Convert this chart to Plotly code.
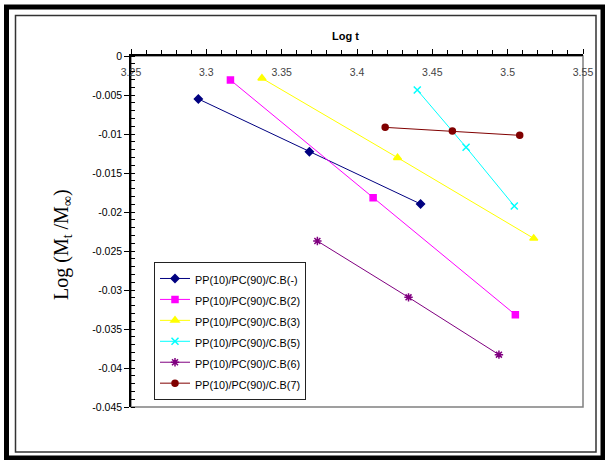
import plotly.graph_objects as go

# ---- data ----
names = ["PP(10)/PC(90)/C.B(-)", "PP(10)/PC(90)/C.B(2)", "PP(10)/PC(90)/C.B(3)",
         "PP(10)/PC(90)/C.B(5)", "PP(10)/PC(90)/C.B(6)", "PP(10)/PC(90)/C.B(7)"]
x_cb0 = [3.2947, 3.3684, 3.4422]
y_cb0 = [-0.00551, -0.01227, -0.01897]
x_cb2 = [3.3160, 3.4107, 3.5051]
y_cb2 = [-0.00308, -0.01816, -0.03317]
x_cb3 = [3.3369, 3.4269, 3.5173]
y_cb3 = [-0.00285, -0.01303, -0.02338]
x_cb5 = [3.4400, 3.4724, 3.5044]
y_cb5 = [-0.00436, -0.01170, -0.01923]
x_cb6 = [3.3737, 3.4342, 3.4942]
y_cb6 = [-0.02372, -0.03094, -0.03829]
x_cb7 = [3.4187, 3.4633, 3.5080]
y_cb7 = [-0.00915, -0.00962, -0.01017]

x_ticks = [3.25, 3.3, 3.35, 3.4, 3.45, 3.5, 3.55]
x_ticklabels = ["3.25", "3.3", "3.35", "3.4", "3.45", "3.5", "3.55"]
y_ticks = [0, -0.005, -0.01, -0.015, -0.02, -0.025, -0.03, -0.035, -0.04, -0.045]
y_ticklabels = ["0", "-0.005", "-0.01", "-0.015", "-0.02", "-0.025", "-0.03", "-0.035", "-0.04", "-0.045"]

xs = [x_cb0, x_cb2, x_cb3, x_cb5, x_cb6, x_cb7]
ys = [y_cb0, y_cb2, y_cb3, y_cb5, y_cb6, y_cb7]
colors = ["#000080", "#FF00FF", "#FFFF00", "#00FFFF", "#800080", "#800000"]
symbols = ["diamond", "square", "triangle-up", "x-thin-open", "asterisk-open", "circle"]
sizes = [6, 6, 7, 7, 7, 6]

fig = go.Figure()
for n, x, y, c, s, sz in zip(names, xs, ys, colors, symbols, sizes):
    fig.add_trace(go.Scatter(
        x=x, y=y, mode="lines+markers",
        name='<span style="font-size:10.8px">' + n + '</span>',
        line=dict(color=c, width=1),
        marker=dict(symbol=s, size=sz, color=c, line=dict(color=c, width=1.5)),
    ))

W, H = 605, 460
L, R, T, B = 131, 583, 56, 407


def px(xp):
    return (xp - L) / (R - L)


def py(yp):
    return (B - yp) / (B - T)


shapes = [
    # plot area frame (right/bottom grey)
    dict(type="rect", xref="paper", yref="paper", x0=0, x1=1, y0=0, y1=1,
         line=dict(color="#808080", width=1.5), layer="below"),
    # outer thick frame
    dict(type="rect", xref="paper", yref="paper", x0=px(6.5), x1=px(603), y0=py(458), y1=py(7),
         line=dict(color="black", width=5)),
    # inner thin frame
    dict(type="rect", xref="paper", yref="paper", x0=px(15.5), x1=px(596), y0=py(452), y1=py(15.5),
         line=dict(color="#333333", width=1.5)),
]

fig.update_layout(
    width=W, height=H,
    margin=dict(l=L, r=W - R, t=T, b=H - B, autoexpand=False),
    paper_bgcolor="white", plot_bgcolor="white",
    font=dict(family="Liberation Sans, Arial", size=10.5, color="black"),
    showlegend=True,
    legend=dict(x=px(154), y=py(262), xanchor="left", yanchor="top",
                bgcolor="white", bordercolor="#222222", borderwidth=1,
                font=dict(size=13.8, color="black"),
                itemwidth=30, tracegroupgap=0),
    shapes=shapes,
    xaxis=dict(
        range=[3.25, 3.55], side="top", tickmode="array",
        tickvals=x_ticks, ticktext=x_ticklabels,
        ticks="outside", ticklen=5, tickwidth=1, tickcolor="black",
        ticklabelposition="inside", ticklabeloverflow="allow", ticklabelstandoff=12,
        showgrid=False, zeroline=False,
        showline=True, linecolor="black", linewidth=1.5,
        minor=dict(dtick=0.01, ticks="outside", ticklen=4, tickcolor="black", showgrid=False),
    ),
    yaxis=dict(
        range=[-0.045, 0], tickmode="array",
        tickvals=y_ticks, ticktext=y_ticklabels,
        ticks="outside", ticklen=5, tickwidth=1, tickcolor="black",
        ticklabeloverflow="allow",
        showgrid=False, zeroline=False,
        showline=True, linecolor="black", linewidth=1.5,
        minor=dict(dtick=0.001, tick0=0, ticks="inside", ticklen=4, tickcolor="black", showgrid=False),
    ),
    annotations=[
        dict(text="<b>Log t</b>", xref="paper", yref="paper", x=px(345), y=py(36),
             showarrow=False, font=dict(size=11, color="black"), xanchor="center", yanchor="middle"),
        dict(text="Log (M<sub>t</sub> /M<sub>∞</sub>)", xref="paper", yref="paper",
             x=px(62), y=py(245), textangle=-90, showarrow=False,
             font=dict(family="Liberation Serif, Times New Roman", size=20, color="black"),
             xanchor="center", yanchor="middle"),
    ],
)

fig.write_html("out.html", config={"displayModeBar": False},
               post_script="document.body.style.margin='0';document.body.style.padding='0';")
